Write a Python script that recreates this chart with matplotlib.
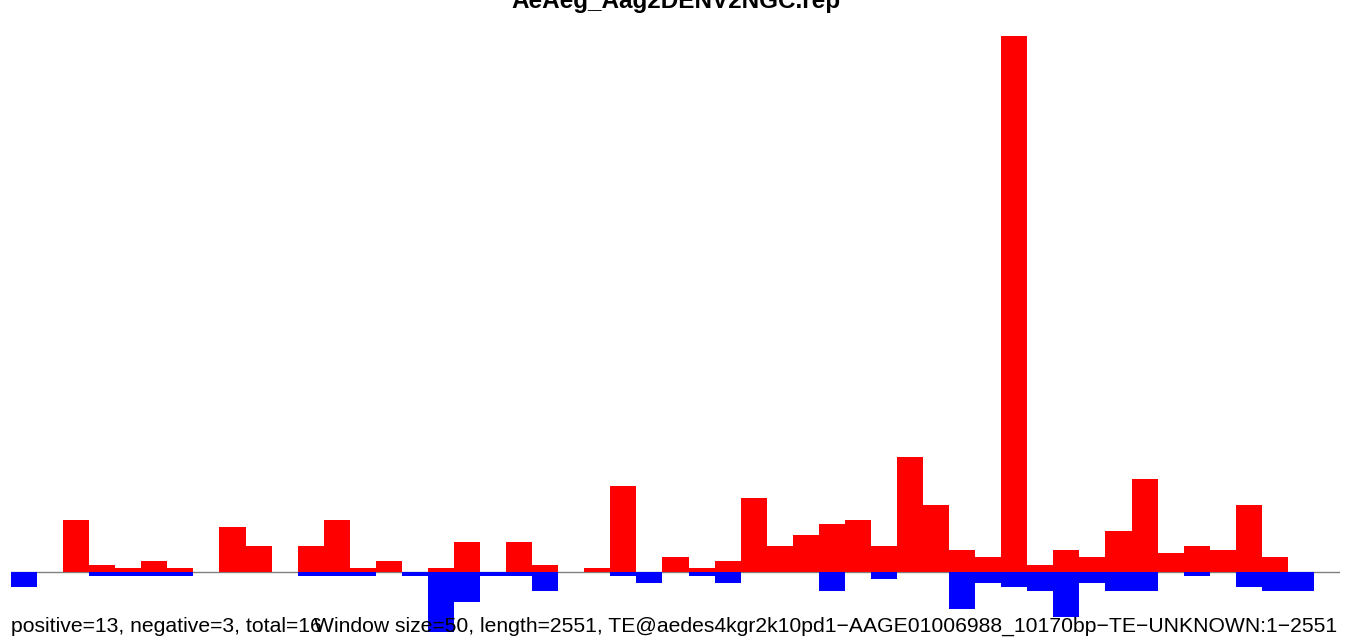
import matplotlib
matplotlib.use("Agg")
import matplotlib.pyplot as plt
import numpy as np

plt.rcParams['font.family'] = ['Liberation Sans', 'DejaVu Sans']

# window counts (50 bp windows along the TE)
positive = [0, 0, 14, 2, 1, 3, 1, 0, 12, 7, 0, 7, 14, 1, 3, 0, 1, 8, 0, 8,
            2, 0, 1, 23, 0, 4, 1, 3, 20, 7, 10, 13, 14, 7, 31, 18, 6, 4, 144, 2,
            6, 4, 11, 25, 5, 7, 6, 18, 4, 0, 0]
negative = [4, 0, 0, 1, 1, 1, 1, 0, 0, 0, 0, 1, 1, 1, 0, 1, 16, 8, 1, 1,
            5, 0, 0, 1, 3, 0, 1, 3, 0, 0, 0, 5, 0, 2, 0, 0, 10, 3, 4, 5,
            12, 3, 5, 5, 0, 1, 0, 4, 5, 5, 0]

title = "AeAeg_Aag2DENV2NGC.rep"
left_note = "positive=13, negative=3, total=16"
right_note = ("Window size=50, length=2551, "
              "TE@aedes4kgr2k10pd1\u2212AAGE01006988_10170bp\u2212TE\u2212UNKNOWN:1\u22122551")

W, H = 1352, 637
fig = plt.figure(figsize=(W / 100, H / 100), dpi=100)

# axes placed in pixel terms
x0, x1 = 11, 1340
ylo, yhi = -17, 145
scale = 3.72
base_px = 572
top_px = base_px - yhi * scale
bot_px = base_px - ylo * scale
ax = fig.add_axes([x0 / W, (H - bot_px) / H, (x1 - x0) / W, (bot_px - top_px) / H])
ax.set_xlim(0, len(positive))
ax.set_ylim(ylo, yhi)
ax.axis('off')

x = np.arange(len(positive))
ax.axhline(0, color='#808080', lw=1, zorder=0)
ax.bar(x, positive, width=1, align='edge', color='#ff0000', lw=0, zorder=2)
ax.bar(x, [-v for v in negative], width=1, align='edge', color='#0000ff', lw=0, zorder=2)

fig.text(0.5, 1 - 8 / H, title, ha='center', va='baseline', fontsize=17.5, fontweight='bold')
fig.text(x0 / W, 1 - 632 / H, left_note, ha='left', va='baseline', fontsize=15.2)
fig.text(1337 / W, 1 - 632 / H, right_note, ha='right', va='baseline', fontsize=15.2, zorder=5)

fig.savefig("out.png", dpi=100)
